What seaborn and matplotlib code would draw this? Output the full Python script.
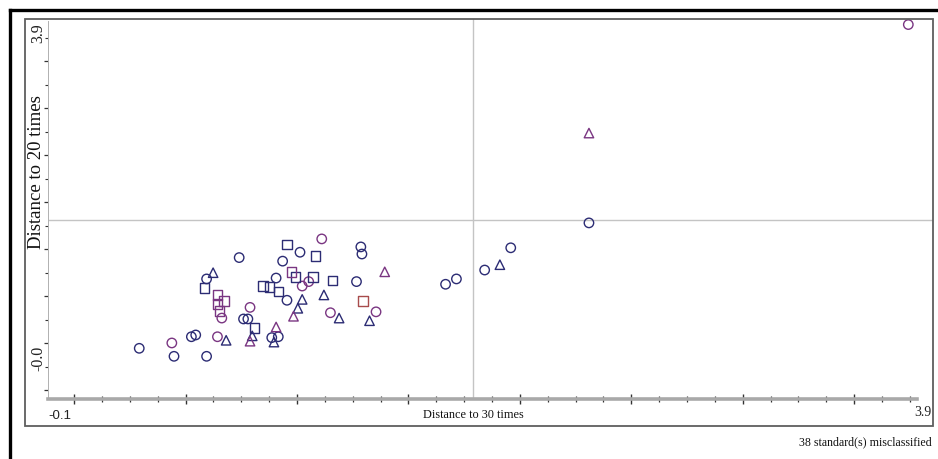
import numpy as np
import pandas as pd
import matplotlib
matplotlib.use("Agg")
import matplotlib.pyplot as plt
import seaborn as sns
from matplotlib.lines import Line2D
from matplotlib.patches import Rectangle
from matplotlib.ticker import FixedLocator

# ---------------- data ----------------
navy_circle_x = [2.39, 2.03, 1.91, 1.78, 1.73, 1.34, 1.345, 1.32, 0.78, 1.06, 0.98, 0.95,
                 1.00, 0.80, 0.82, 0.93, 0.96, 0.63, 0.32, 0.48, 0.56, 0.58, 0.63]
navy_circle_y = [1.63, 1.35, 1.10, 1.00, 0.94, 1.36, 1.28, 0.97, 1.24, 1.30, 1.20, 1.01,
                 0.76, 0.55, 0.55, 0.34, 0.35, 1.00, 0.22, 0.13, 0.35, 0.37, 0.13]
purple_circle_x = [3.86, 0.47, 0.70, 0.68, 1.16, 1.07, 1.10, 0.83, 1.20, 1.41]
purple_circle_y = [3.86, 0.28, 0.56, 0.35, 1.45, 0.92, 0.97, 0.68, 0.62, 0.63]
navy_square_x = [1.00, 1.13, 1.04, 0.89, 0.92, 0.96, 1.12, 1.21, 0.85, 0.62]
navy_square_y = [1.39, 1.26, 1.02, 0.92, 0.91, 0.86, 1.02, 0.98, 0.45, 0.90]
purple_square_x = [1.02, 0.68, 0.71, 0.68, 0.69]
purple_square_y = [1.08, 0.82, 0.75, 0.72, 0.64]
red_square_x = [1.35]
red_square_y = [0.75]
navy_triangle_x = [1.98, 0.66, 0.72, 1.07, 1.05, 1.17, 0.84, 0.94, 1.24, 1.38]
navy_triangle_y = [1.16, 1.07, 0.31, 0.77, 0.67, 0.82, 0.36, 0.29, 0.56, 0.53]
purple_triangle_x = [2.39, 1.45, 1.03, 0.83, 0.95]
purple_triangle_y = [2.64, 1.08, 0.58, 0.30, 0.46]

crit_x = 1.856   # critical distance to model "30 times"
crit_y = 1.66    # critical distance to model "20 times"

x_label = "Distance to 30 times"
y_label = "Distance to 20 times"
x_min_label, x_max_label = "-0.1", "3.9"
y_min_label, y_max_label = "-0.0", "3.9"
footer = "38 standard(s) misclassified"

# ---------------- table ----------------
groups = [
    ("circle", "navy", navy_circle_x, navy_circle_y),
    ("circle", "purple", purple_circle_x, purple_circle_y),
    ("square", "navy", navy_square_x, navy_square_y),
    ("square", "purple", purple_square_x, purple_square_y),
    ("square", "red", red_square_x, red_square_y),
    ("triangle", "navy", navy_triangle_x, navy_triangle_y),
    ("triangle", "purple", purple_triangle_x, purple_triangle_y),
]
rows = []
for shape, cls, xs, ys in groups:
    for xv, yv in zip(xs, ys):
        rows.append({"x": xv, "y": yv, "shape": shape, "cls": cls})
df = pd.DataFrame(rows)

palette = {"navy": "#2c2c74", "purple": "#7a3682", "red": "#a84c4c"}
markers = {"circle": "o", "square": "s", "triangle": "^"}

# ---------------- figure ----------------
sns.set_theme(style="white")
plt.rcParams["font.family"] = ["Liberation Serif", "DejaVu Serif"]

W, H = 938, 460
fx = lambda px: px / W
fy = lambda py: 1 - py / H

fig = plt.figure(figsize=(W / 100, H / 100), dpi=100)
fig.patch.set_facecolor("white")
ax = fig.add_axes([fx(48), fy(400), fx(933) - fx(48), fy(20) - fy(400)])
ax.set_facecolor("none")

sns.scatterplot(data=df, x="x", y="y", hue="cls", style="shape",
                palette=palette, markers=markers, s=46, linewidth=1.0,
                legend=False, ax=ax, zorder=3)
for coll in ax.collections:
    fc = coll.get_facecolors()
    coll.set_edgecolors(fc)
    coll.set_facecolors("none")
    coll.set_linewidths(1.0)

ax.axvline(crit_x, color="#c4c4c4", lw=1.0, zorder=1)
ax.axhline(crit_y, color="#c4c4c4", lw=1.0, zorder=1)

ax.set_xlim(-0.1, 3.9 + 16 / 217.25)
ax.set_ylim(-0.35, 3.9 + 2 / 88.94)
ax.set_xlabel("")
ax.set_ylabel("")
ax.grid(False)

for s in ("top", "right"):
    ax.spines[s].set_visible(False)
ax.spines["bottom"].set_color("#a9a9a9")
ax.spines["bottom"].set_linewidth(2.6)
ax.spines["bottom"].set_bounds(-0.1, 3.9)
ax.spines["left"].set_color("#b0b0b0")
ax.spines["left"].set_linewidth(0.7)
ax.spines["left"].set_bounds(-0.35, 3.9)

xmaj = np.arange(0.02, 3.9, 0.513)
xmin = np.arange(0.02, 3.9, 0.513 / 4)
ax.xaxis.set_major_locator(FixedLocator(xmaj))
ax.xaxis.set_minor_locator(FixedLocator(xmin))
ymaj = np.arange(-0.25, 3.9, 0.528)
ymin = np.arange(-0.25, 3.9, 0.528 / 2)
ax.yaxis.set_major_locator(FixedLocator(ymaj))
ax.yaxis.set_minor_locator(FixedLocator(ymin))
ax.tick_params(axis="x", which="major", direction="inout", length=7, width=1.0,
               color="#333333", bottom=True, labelbottom=False)
ax.tick_params(axis="x", which="minor", direction="inout", length=4, width=0.9,
               color="#333333", bottom=True)
ax.tick_params(axis="y", which="major", direction="out", length=3, width=0.9,
               color="#333333", left=True, labelleft=False)
ax.tick_params(axis="y", which="minor", direction="out", length=2, width=0.8,
               color="#333333", left=True)

# ---------------- texts ----------------
fig.text(fx(48), fy(416), x_min_label, ha="left", va="center", fontsize=9.5,
         family=["Liberation Sans", "DejaVu Sans"], color="#222222")
fig.text(fx(931), fy(412), x_max_label, ha="right", va="center", fontsize=10,
         color="#222222")
fig.text(fx(473), fy(415), x_label, ha="center", va="center", fontsize=8.8,
         color="#111111")
fig.text(fx(932), fy(442), footer, ha="right", va="center", fontsize=8.6,
         color="#111111")
fig.text(fx(36.5), fy(172), y_label, ha="center", va="center", rotation=90,
         fontsize=13.5, color="#111111")
fig.text(fx(38), fy(33), y_max_label, ha="center", va="center", rotation=90,
         fontsize=11.5, color="#222222")
fig.text(fx(38), fy(358), y_min_label, ha="center", va="center", rotation=90,
         fontsize=11.5, color="#222222")

# ---------------- frames ----------------
fig.add_artist(Rectangle((fx(25), fy(427)), fx(933) - fx(25), fy(20) - fy(427),
                         transform=fig.transFigure, fill=False,
                         edgecolor="#5e5e5e", lw=1.3))
fig.add_artist(Line2D([fx(10), fx(10)], [0, fy(11)], transform=fig.transFigure,
                      color="black", lw=2.4, solid_capstyle="projecting"))
fig.add_artist(Line2D([fx(10), 1], [fy(11), fy(11)], transform=fig.transFigure,
                      color="black", lw=2.4, solid_capstyle="projecting"))

fig.savefig("out.png", dpi=100, facecolor="white")
